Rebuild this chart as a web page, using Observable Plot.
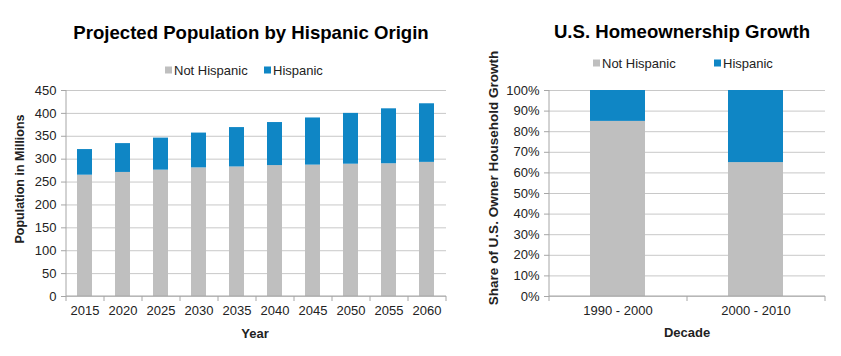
<!DOCTYPE html>
<html><head><meta charset="utf-8">
<script src="https://cdn.jsdelivr.net/npm/d3@7"></script>
<script src="https://cdn.jsdelivr.net/npm/@observablehq/plot@0.6"></script>
<style>
body{margin:0;background:#fff;font-family:"Liberation Sans",Arial,sans-serif;}
#wrap{position:relative;width:841px;height:356px;overflow:hidden;background:#fff}
#wrap svg{position:absolute;top:0}
.abs{position:absolute;white-space:nowrap;color:#000;line-height:1}
.title{font-weight:bold;font-size:18.6px;transform:translate(-50%,-50%)}
.leg{font-size:13px;transform:translateY(-50%);display:flex;align-items:center;color:#222}
.sw{display:inline-block;width:7px;height:7px;margin-right:2px}
.axt{font-weight:bold;font-size:12.5px;color:#222}
.rot{transform:translate(-50%,-50%) rotate(-90deg)}
.ctr{transform:translate(-50%,-50%)}
</style></head>
<body><div id="wrap"></div>
<script>
// ---- data ----
const years = ["2015","2020","2025","2030","2035","2040","2045","2050","2055","2060"];
const notHispanic = [265,271,276,281,283,286,287,289,290,293];
const hispanic = [56,63,70,76,86,94,103,111,120,128];
const popTicks = [0,50,100,150,200,250,300,350,400,450];

const decades = ["1990 - 2000","2000 - 2010"];
const shareNotHispanic = [85,65];
const shareHispanic = [15,35];
const pctTicks = [0,10,20,30,40,50,60,70,80,90,100];

const series = ["Not Hispanic","Hispanic"];
const colors = ["#bfbfbf","#0f86c5"];

// ---- build tables ----
const popData = [];
years.forEach((y,i)=>{ popData.push({cat:y, series:series[0], value:notHispanic[i]}); });
years.forEach((y,i)=>{ popData.push({cat:y, series:series[1], value:hispanic[i]}); });
const shareData = [];
decades.forEach((d,i)=>{ shareData.push({cat:d, series:series[0], value:shareNotHispanic[i]}); });
decades.forEach((d,i)=>{ shareData.push({cat:d, series:series[1], value:shareHispanic[i]}); });

function frameMark(n){
  return (index, scales, values, dims) => {
    const g = d3.create("svg:g").attr("stroke","#a6a6a6").attr("stroke-width",1);
    const x0 = dims.marginLeft, x1 = dims.width - dims.marginRight;
    const yb = dims.height - dims.marginBottom, yt = dims.marginTop;
    g.append("line").attr("x1",x0).attr("x2",x0).attr("y1",yt).attr("y2",yb);
    g.append("line").attr("x1",x0).attr("x2",x1).attr("y1",yb).attr("y2",yb);
    for (let i=0;i<=n;i++){
      const x = x0 + (x1-x0)*i/n;
      g.append("line").attr("x1",x).attr("x2",x).attr("y1",yb).attr("y2",yb+5);
    }
    return g.node();
  };
}

const baseStyle = {fontFamily:"'Liberation Sans', Arial, sans-serif", fontSize:"13px", color:"#222", background:"transparent", overflow:"visible"};

const left = Plot.plot({
  width: 450, height: 356, marginTop: 90, marginBottom: 60, marginLeft: 66, marginRight: 4,
  style: baseStyle,
  x: {domain: years, paddingInner: 0.6, paddingOuter: 0.3, label: null},
  y: {domain: [0,450], label: null},
  color: {domain: series, range: colors},
  marks: [
    Plot.gridY(popTicks, {stroke:"#c8c8c8", strokeOpacity:1}),
    Plot.barY(popData, {x:"cat", y:"value", fill:"series"}),
    Plot.axisY(popTicks, {tickSize:5, tickPadding:5, label:null, stroke:"#a6a6a6"}),
    Plot.axisX({tickSize:0, tickPadding:9, label:null}),
    frameMark(years.length)
  ]
});
left.style.left = "0px";

const right = Plot.plot({
  width: 391, height: 356, marginTop: 90, marginBottom: 60, marginLeft: 99, marginRight: 16,
  style: baseStyle,
  x: {domain: decades, paddingInner: 0.6, paddingOuter: 0.3, label: null},
  y: {domain: [0,100], label: null},
  color: {domain: series, range: colors},
  marks: [
    Plot.gridY(pctTicks, {stroke:"#c8c8c8", strokeOpacity:1}),
    Plot.barY(shareData, {x:"cat", y:"value", fill:"series"}),
    Plot.axisY(pctTicks, {tickSize:5, tickPadding:5, label:null, stroke:"#a6a6a6", tickFormat: d => d + "%"}),
    Plot.axisX({tickSize:0, tickPadding:9, label:null}),
    frameMark(decades.length)
  ]
});
right.style.left = "450px";

const wrap = document.getElementById("wrap");
wrap.appendChild(left);
wrap.appendChild(right);

function addText(cls, text, x, y, size){
  const d = document.createElement("div");
  d.className = "abs " + cls;
  d.textContent = text;
  d.style.left = x + "px"; d.style.top = y + "px";
  if (size) d.style.fontSize = size + "px";
  wrap.appendChild(d);
  return d;
}
function addLegend(x, y, i){
  const d = document.createElement("div");
  d.className = "abs leg";
  d.style.left = x + "px"; d.style.top = y + "px";
  const s = document.createElement("span");
  s.className = "sw"; s.style.background = colors[i];
  d.appendChild(s);
  d.appendChild(document.createTextNode(series[i]));
  wrap.appendChild(d);
}

addText("title", "Projected Population by Hispanic Origin", 251, 33);
addText("title", "U.S. Homeownership Growth", 682, 32);
addLegend(165, 70, 0); addLegend(264, 70, 1);
addLegend(593, 63, 0); addLegend(714, 63, 1);
addText("axt rot", "Population in Millions", 20, 179);
addText("axt rot", "Share of U.S. Owner Household Growth", 494, 178, 13.5);
addText("axt ctr", "Year", 255, 333, 13);
addText("axt ctr", "Decade", 687, 332, 13);
</script>
</body></html>
